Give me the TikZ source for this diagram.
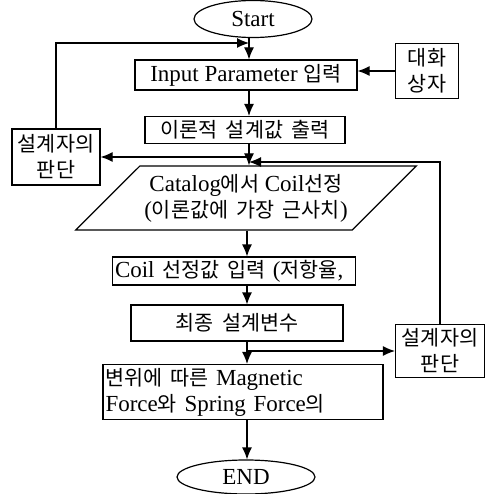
\documentclass[tikz,border=0pt]{standalone}
\usepackage{fontspec}
\setmainfont{Liberation Serif}
\newfontfamily\kr[Scale=0.9,WordSpace=1.8]{Noto Sans CJK KR}
\usetikzlibrary{arrows.meta,shapes.geometric}

\begin{document}
\begin{tikzpicture}[x=1pt,y=-1pt,font=\fontsize{23}{26}\selectfont,box/.style 2 args={draw,line width=1.2pt,minimum width=#1,minimum height=#2,inner sep=2pt,align=center},term/.style 2 args={draw,ellipse,line width=1.2pt,minimum width=#1,minimum height=#2,inner sep=0pt},arr/.style={-{Latex[length=12pt,width=10pt]},line width=1.2pt}]
\useasboundingbox (0,0) rectangle (487,494);
\coordinate (trunk) at (249,0); \coordinate (trunkB) at (247,0);
\node[term={118}{37}] (start) at (253,19) {Start};
\node[box={222}{30}] (input) at (246,75) {Input Parameter {\kr 입력}};
\node[box={63}{55}] (dialog) at (427,71) {\kr 대화\\\kr 상자};
\node[box={200}{27}] (theory) at (245,130) {\kr 이론적 설계값 출력};
\node[box={88}{56}] (judgeL) at (56,157) {\kr 설계자의\\\kr 판단};
\node[draw,line width=1.2pt,trapezium,trapezium left angle=38,trapezium right angle=142,trapezium stretches=true,minimum width=342,minimum height=64,inner sep=0pt,align=center] (catalog) at (246,198) {Catalog{\kr 에서} Coil{\kr 선정}\\({\kr 이론값에 가장 근사치})};
\node[box={243}{28},align=left,text width=238] (coil) at (234,271) {Coil {\kr 선정값 입력} ({\kr 저항율},};
\node[box={212}{36}] (final) at (237,323) {\kr 최종 설계변수};
\node[box={89}{53}] (judgeR) at (440,351) {\kr 설계자의\\\kr 판단};
\node[box={280}{55},align=left,text width=275] (disp) at (243,392) {{\kr 변위에 따른} Magnetic\\Force{\kr 와} Spring Force{\kr 의}};
\node[term={138}{34}] (end) at (246,477) {END};
\coordinate (joinL) at (249,43); \coordinate (joinR) at (249,162);
\draw[arr] (start.south -| trunk) -- (input.north -| trunk);
\draw[arr] (dialog.west) -- (dialog.west -| input.east);
\draw[arr] (input.south -| trunk) -- (theory.north -| trunk);
\draw[arr] (theory.south -| trunk) -- (catalog.north -| trunk);
\draw[arr] (judgeL.east -| trunk) -- (judgeL.east);
\draw[arr] (judgeL.north) |- (joinL);
\draw[arr] (judgeR.north) |- (joinR);
\draw[arr] (catalog.south -| trunkB) -- (coil.north -| trunkB);
\draw[arr] (coil.south -| trunkB) -- (final.north -| trunkB);
\draw[arr] (final.south -| trunkB) -- (disp.north -| trunkB);
\draw[arr] (judgeR.west -| trunkB) -- (judgeR.west);
\draw[arr] (disp.south -| trunkB) -- (end.north -| trunkB);
\end{tikzpicture}
\end{document}
